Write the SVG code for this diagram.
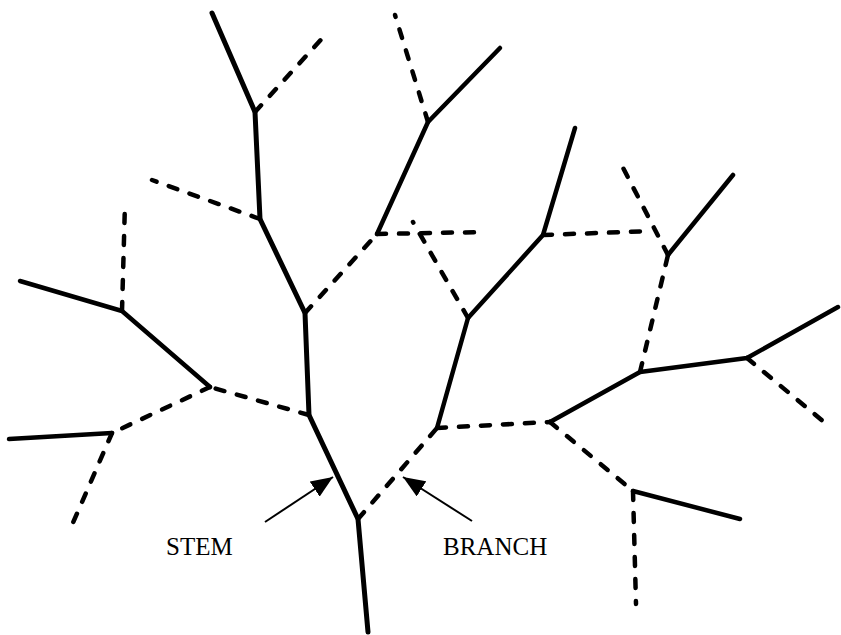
<svg xmlns="http://www.w3.org/2000/svg" width="841" height="635" viewBox="0 0 841 635">
  <defs>
    <style>
      .solid { fill: none; stroke: #000; stroke-width: 4.5; stroke-linecap: round; stroke-linejoin: round; }
      .stem { stroke-width: 5; }
      .dash { fill: none; stroke: #000; stroke-width: 4.5; stroke-linecap: round; stroke-dasharray: 9 13; }
      .pointer { fill: none; stroke: #000; stroke-width: 2; }
      .label { font-family: "Liberation Serif", "Times New Roman", serif; font-size: 25px; fill: #000; }
    </style>
    <marker id="head" viewBox="0 0 10 10" refX="9" refY="5" markerWidth="11" markerHeight="11" markerUnits="userSpaceOnUse" orient="auto">
      <path d="M0,0 L10,5 L0,10 z" fill="#000"/>
    </marker>
    <marker id="arrowhead" viewBox="0 0 22 18" refX="22" refY="9" markerWidth="22" markerHeight="18" markerUnits="userSpaceOnUse" orient="auto">
      <path d="M0,0 L22,9 L0,18 z" fill="#000"/>
    </marker>
  </defs>

  <!-- connectors: solid stems and dashed branches -->
  <g id="connectors">
    <!-- main stem -->
    <path class="solid stem" d="M368,632 L358,519 L309,415 L305,313 L260,219 L255,112 L212,13"/>
    <!-- upper left/right -->
    <path class="dash" d="M255,112 L328,32"/>
    <path class="dash" d="M260,219 L152,180"/>
    <path class="dash" d="M305,313 L377,234"/>
    <path class="solid" d="M377,234 L428,122 L500,48"/>
    <path class="dash" d="M428,122 L395,15"/>
    <path class="dash" d="M377,234 L486,232"/>
    <!-- right-hand stem -->
    <path class="dash" d="M358,519 L437,428"/>
    <path class="solid" d="M437,428 L468,318 L543,235 L575,128"/>
    <path class="dash" d="M468,318 L413,222"/>
    <path class="dash" d="M543,235 L652,231"/>
    <path class="dash" d="M437,428 L550,422"/>
    <path class="solid" d="M550,422 L640,372 L747,358 L838,307"/>
    <path class="dash" d="M747,358 L830,427"/>
    <path class="dash" d="M640,372 L668,255"/>
    <path class="solid" d="M668,255 L733,175"/>
    <path class="dash" d="M668,255 L619,160"/>
    <path class="dash" d="M550,422 L633,491"/>
    <path class="solid" d="M633,491 L740,519"/>
    <path class="dash" d="M633,491 L636,604"/>
    <!-- left-hand side -->
    <path class="dash" d="M309,415 L210,387"/>
    <path class="solid" d="M210,387 L122,311 L20,281"/>
    <path class="dash" d="M122,311 L125,203"/>
    <path class="dash" d="M210,387 L112,433"/>
    <path class="solid" d="M112,433 L9,439"/>
    <path class="dash" d="M112,433 L69,532"/>
    <!-- label pointers -->
    <path class="pointer" d="M265,522 L333,477" marker-end="url(#arrowhead)"/>
    <path class="pointer" d="M472,521 L403,477" marker-end="url(#arrowhead)"/>
  </g>

  <g id="stem-label">
    <text class="label" x="166" y="555">STEM</text>
  </g>
  <g id="branch-label">
    <text class="label" x="443" y="555">BRANCH</text>
  </g>
</svg>
